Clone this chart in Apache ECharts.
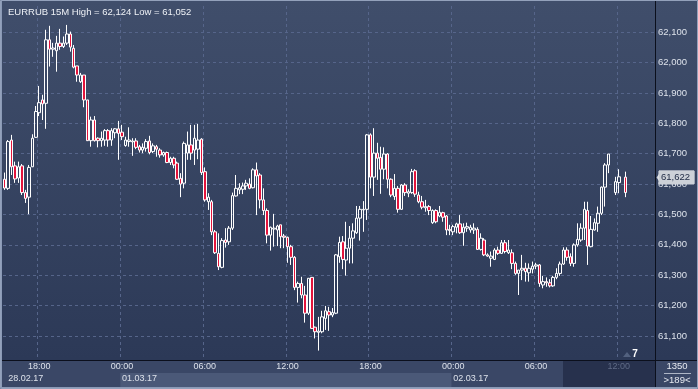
<!DOCTYPE html>
<html><head><meta charset="utf-8">
<script src="https://cdn.jsdelivr.net/npm/echarts/dist/echarts.min.js"></script>
<style>html,body{margin:0;padding:0;background:#2c3957;overflow:hidden}#c{width:698px;height:389px}</style>
</head><body><div id="c"></div>
<script>
const FONT = '"Liberation Sans", Arial, sans-serif';
const titleText = 'EURRUB 15M High = 62,124 Low = 61,052';
const lastPrice = 61622;
const barCountText = '1350';
const visibleText = '>189<';
const dayLabels = ['28.02.17', '01.03.17', '02.03.17', '03.03.17'];
const startMinute = 15 * 60 + 30; // first bar 28.02.17 15:30
const stepMinutes = 15;
const slotCount = 189;

const opens = [61616,61586,61745,61660,61620,61660,61572,61557,61657,61754,61835,61877,61866,62075,62044,62039,62064,62053,62064,62094,62047,61989,61937,61959,61877,61743,61811,61751,61743,61745,61776,61745,61769,61782,61771,61727,61740,61739,61742,61723,61712,61718,61742,61707,61723,61712,61696,61704,61671,61685,61669,61619,61603,61702,61729,61712,61715,61748,61641,61542,61542,61443,61372,61326,61416,61410,61455,61561,61581,61583,61594,61600,61588,61647,61630,61548,61513,61432,61452,61449,61466,61429,61425,61394,61359,61260,61273,61235,61175,61293,61129,61112,61114,61158,61180,61169,61175,61361,61410,61350,61389,61422,61440,61488,61515,61517,61762,61623,61702,61688,61649,61699,61616,61559,61586,61517,61597,61570,61572,61644,61564,61542,61522,61526,61473,61513,61495,61506,61495,61451,61443,61458,61469,61440,61455,61449,61449,61451,61385,61416,61367,61356,61352,61383,61372,61407,61374,61374,61339,61306,61317,61323,61308,61320,61330,61334,61268,61279,61275,61265,61293,61306,61337,61383,61361,61339,61400,61416,61455,61513,61394,61449,61471,61504,61590,61663,null,61572,61605,null,61623];
const closes = [61587,61740,61657,61617,61657,61572,61553,61655,61751,61839,61868,61864,62075,62044,62048,62064,62053,62064,62094,62051,61985,61959,61959,61877,61743,61811,61743,61743,61751,61776,61745,61776,61782,61767,61756,61745,61745,61742,61721,61712,61721,61740,61704,61726,61715,61696,61704,61671,61685,61663,61616,61600,61734,61729,61702,61751,61745,61638,61548,61557,61443,61374,61328,61414,61408,61455,61562,61586,61588,61594,61603,61586,61647,61627,61548,61513,61432,61458,61455,61462,61427,61425,61394,61359,61260,61273,61235,61175,61290,61125,61114,61116,61163,61183,61169,61177,61367,61408,61352,61389,61422,61446,61488,61517,61517,61762,61623,61702,61685,61649,61699,61616,61564,61586,61517,61597,61572,61575,61641,61567,61542,61524,61526,61513,61513,61476,61507,61491,61449,61447,61460,61469,61440,61458,61460,61458,61455,61385,61422,61367,61363,61363,61383,61372,61407,61378,61383,61339,61306,61317,61323,61312,61323,61330,61334,61273,61279,61275,61265,61293,61306,61337,61383,61359,61339,61400,61418,61455,61517,61396,61451,61473,61504,61590,61663,61699,null,61608,61624,null,61572];
const lows = [61581,61581,61630,61604,61604,61564,61538,61501,61656,61752,61824,61811,61782,61987,62019,61970,62042,62048,62058,62036,61981,61937,61933,61853,61742,61723,61740,61721,61723,61726,61723,61726,61751,61680,61745,61723,61723,61693,61715,61704,61702,61707,61698,61702,61690,61687,61690,61669,61663,61652,61614,61557,61586,61680,61680,61663,61682,61630,61542,61515,61432,61370,61317,61323,61391,61400,61449,61559,61567,61567,61581,61583,61586,61498,61520,61498,61405,61381,61394,61396,61389,61389,61341,61334,61251,61210,61224,61144,61169,61123,61092,61052,61109,61120,61117,61162,61172,61341,61320,61299,61339,61339,61436,61414,61443,61482,61586,61561,61614,61568,61616,61586,61557,61548,61506,61515,61561,61557,61568,61558,61537,61517,61509,61498,61469,61471,61491,61476,61432,61432,61432,61438,61436,61397,61443,61440,61436,61383,61381,61363,61361,61328,61350,61367,61370,61372,61370,61320,61301,61235,61284,61279,61279,61306,61320,61262,61257,61262,61260,61262,61287,61298,61334,61348,61330,61328,61394,61410,61416,61334,61392,61447,61443,61498,61526,61636,null,61564,61570,null,61557];
const highs = [61638,61745,61762,61674,61674,61666,61581,61663,61764,61857,61923,61894,62108,62121,62065,62088,62111,62086,62124,62102,62058,61989,61966,61959,61877,61822,61824,61754,61773,61781,61781,61784,61784,61808,61795,61756,61787,61751,61751,61729,61734,61748,61759,61734,61729,61718,61707,61707,61690,61690,61674,61636,61740,61773,61795,61795,61798,61751,61655,61570,61548,61449,61438,61422,61455,61462,61572,61630,61603,61605,61614,61619,61652,61671,61636,61586,61520,61460,61502,61466,61466,61436,61427,61400,61363,61279,61295,61265,61291,61294,61131,61163,61183,61199,61196,61192,61370,61427,61429,61476,61462,61471,61528,61528,61544,61765,61767,61784,61736,61723,61721,61702,61619,61633,61594,61600,61603,61583,61650,61649,61575,61561,61548,61531,61517,61517,61528,61509,61498,61466,61466,61473,61498,61471,61473,61466,61471,61458,61438,61422,61372,61378,61389,61394,61416,61416,61416,61385,61345,61317,61367,61341,61339,61345,61341,61337,61298,61293,61287,61298,61323,61345,61392,61392,61372,61405,61471,61471,61542,61542,61495,61487,61526,61592,61669,61699,null,61624,61649,null,61641];

const pad2 = n => (n < 10 ? '0' : '') + n;
const categories = [];
for (let i = 0; i < slotCount; i++) {
  const t = startMinute + i * stepMinutes;
  const day = Math.floor(t / 1440), m = t % 1440;
  categories.push(dayLabels[day] + ' ' + pad2(Math.floor(m / 60)) + ':' + pad2(m % 60));
}
const timeOf = v => v.split(' ')[1];
const dateOf = v => v.split(' ')[0];
const isMajor = (i, v) => { const t = timeOf(v); return t.slice(3) === '00' && (+t.slice(0, 2)) % 6 === 0; };
const isDayStart = (i, v) => i === 1 || timeOf(v) === '00:00';

const candleData = opens.map((o, i) => o == null ? ['-', '-', '-', '-'] : [o, closes[i], lows[i], highs[i]]);
const fmt = v => Math.round(v).toLocaleString('en-US');

const chart = echarts.init(document.getElementById('c'), null, { renderer: 'canvas' });
const labelColor = '#dde2eb';
const option = {
  animation: false,
  backgroundColor: { type: 'linear', x: 0, y: 0, x2: 0, y2: 1, colorStops: [
    { offset: 0, color: '#404e6b' }, { offset: 0.925, color: '#2c3957' }, { offset: 1, color: '#2c3957' }] },
  textStyle: { fontFamily: FONT },
  title: { text: titleText, left: 3, top: 2, textStyle: { fontSize: 9.5, fontWeight: 'normal', color: '#eef1f6', fontFamily: FONT } },
  grid: { left: 3, right: 43, top: 0, bottom: 29, containLabel: false },
  xAxis: [{
    type: 'category', data: categories, boundaryGap: true,
    axisLine: { show: true, lineStyle: { color: '#0b0f1c', width: 1 } },
    axisTick: { show: false },
    axisLabel: { interval: isMajor, formatter: v => timeOf(v), fontSize: 9, margin: 2, fontFamily: FONT,
      color: (v) => (dateOf(v) === dayLabels[2] && timeOf(v) === '12:00') ? '#5f6b86' : labelColor },
    splitLine: { show: true, interval: isMajor, lineStyle: { color: '#56658a', width: 1, type: [3, 3] } }
  }, {
    type: 'category', data: categories, boundaryGap: true, position: 'bottom', offset: 12,
    axisLine: { show: false }, axisTick: { show: false }, splitLine: { show: false },
    axisLabel: { interval: isDayStart, formatter: v => dateOf(v), align: 'left', fontSize: 9, margin: 2, color: labelColor, fontFamily: FONT }
  }],
  yAxis: {
    type: 'value', position: 'right', min: 61021, max: 62206, splitNumber: 12, minInterval: 100, maxInterval: 100, scale: true,
    axisLine: { show: true, lineStyle: { color: '#0b0f1c', width: 1 } },
    axisTick: { show: false },
    axisLabel: { margin: 3, fontSize: 9.5, color: labelColor, fontFamily: FONT,
      formatter: v => (Math.abs(v % 100) < 1e-6 && v >= 61100 && v <= 62100) ? fmt(v) : '' },
    splitLine: { show: true, lineStyle: { color: '#56658a', width: 1, type: [3, 3] } }
  },
  series: [{
    type: 'candlestick', xAxisIndex: 0, yAxisIndex: 0, data: candleData, barWidth: 3,
    itemStyle: { color: 'transparent', color0: '#e3143c', borderColor: '#ffffff', borderColor0: '#ffffff', borderColorDoji: '#ffffff', borderWidth: 1 }
  }]
};
chart.setOption(option);

const xPix = i => chart.convertToPixel({ xAxisIndex: 0 }, i);
const bandW = xPix(1) - xPix(0);
const d1 = categories.findIndex(c => dateOf(c) === dayLabels[1]);
const d2 = categories.findIndex(c => dateOf(c) === dayLabels[2]);
const bandL = xPix(d1) - bandW / 2, bandR = xPix(d2) - bandW / 2;
const yLast = chart.convertToPixel({ yAxisIndex: 0 }, lastPrice);
const plotRight = xPix(slotCount - 1) + bandW / 2;
const plotBottom = chart.convertToPixel({ yAxisIndex: 0 }, 61021);

chart.setOption({ graphic: [
  { type: 'rect', z: -3, silent: true, shape: { x: 0, y: plotBottom, width: 698, height: 389 - plotBottom }, style: { fill: '#3a4766' } },
  { type: 'rect', z: -2, silent: true, shape: { x: bandL, y: plotBottom + 13, width: bandR - bandL, height: 14 }, style: { fill: '#4b5978' } },
  { type: 'rect', z: -2, silent: true, shape: { x: 563, y: plotBottom + 1, width: plotRight - 563, height: 27 }, style: { fill: '#27314d' } },
  { type: 'rect', z: 1, silent: true, shape: { x: 0, y: 0, width: plotRight, height: 3 }, style: { fill: '#404e6b' } },
  { type: 'line', z: 30, silent: true, shape: { x1: 0, y1: Math.round(plotBottom) + 0.5, x2: 698, y2: Math.round(plotBottom) + 0.5 }, style: { stroke: '#0b0f1c', lineWidth: 1 } },
  { type: 'line', z: 30, silent: true, shape: { x1: Math.round(plotRight) + 0.5, y1: 0, x2: Math.round(plotRight) + 0.5, y2: 389 }, style: { stroke: '#0b0f1c', lineWidth: 1 } },
  { type: 'polygon', z: 31, silent: true, shape: { points: [[plotRight + 1.5, yLast], [plotRight + 5, yLast - 5], [plotRight + 5, yLast + 5]] }, style: { fill: '#cdd1d8' } },
  { type: 'text', z: 31, silent: true, x: plotRight + 4, y: yLast, style: { text: fmt(lastPrice), fill: '#1d2842', font: '9.5px ' + FONT,
      backgroundColor: '#cdd1d8', borderColor: '#eceef2', borderWidth: 0.5, padding: [2, 4, 1, 2], textVerticalAlign: 'middle', textAlign: 'left' } },
  { type: 'text', z: 30, silent: true, x: 677, y: plotBottom + 6, style: { text: barCountText, fill: '#e6e9f0', font: '9.5px ' + FONT, textAlign: 'center', textVerticalAlign: 'middle' } },
  { type: 'line', z: 30, silent: true, shape: { x1: 664, y1: plotBottom + 13.5, x2: 691, y2: plotBottom + 13.5 }, style: { stroke: '#aeb6c6', lineWidth: 1 } },
  { type: 'text', z: 30, silent: true, x: 677, y: plotBottom + 20, style: { text: visibleText, fill: '#e6e9f0', font: '9.5px ' + FONT, textAlign: 'center', textVerticalAlign: 'middle' } },
  { type: 'polygon', z: 30, silent: true, shape: { points: [[623, plotBottom - 3], [627, plotBottom - 8], [631, plotBottom - 3]] }, style: { fill: '#52617f' } },
  { type: 'text', z: 30, silent: true, x: 635, y: plotBottom - 6, style: { text: '7', fill: '#ffffff', font: 'bold 10px ' + FONT, textAlign: 'center', textVerticalAlign: 'middle' } },
  { type: 'rect', z: 40, silent: true, shape: { x: 0.5, y: 0.5, width: 697, height: 388 }, style: { fill: null, stroke: '#93a1bb', lineWidth: 1 } },
  { type: 'line', z: 40, silent: true, shape: { x1: 1.5, y1: 0, x2: 1.5, y2: 389 }, style: { stroke: '#8b9ab6', lineWidth: 1 } },
  { type: 'line', z: 40, silent: true, shape: { x1: 0, y1: 387.5, x2: 698, y2: 387.5 }, style: { stroke: '#8b9ab6', lineWidth: 1 } }
] });
</script>
</body></html>
